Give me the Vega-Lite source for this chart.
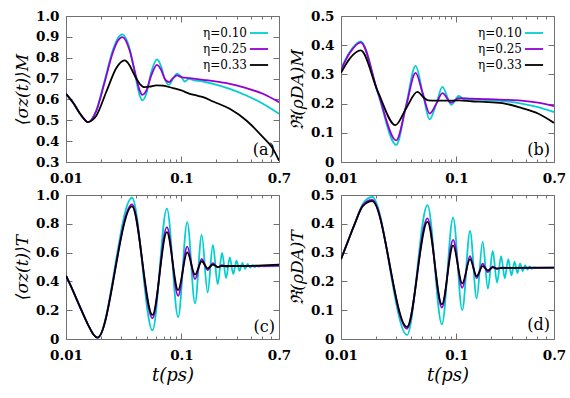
{
  "$schema": "https://vega.github.io/schema/vega-lite/v6.json",
  "padding": {"left": 13, "top": 8, "right": 5, "bottom": 5},
  "config": {
    "view": {"stroke": "#707070", "strokeWidth": 1},
    "axis": {"domain": false, "grid": false, "labelFont": "DejaVu Serif", "labelFontSize": 13.5, "labelFontWeight": "bold", "labelColor": "#000", "tickColor": "#707070", "tickWidth": 1, "titleFont": "DejaVu Serif", "titleFontStyle": "italic", "titleFontWeight": "normal", "titleFontSize": 17, "titleColor": "#000", "labelFlush": false, "labelOverlap": false},
    "line": {"strokeWidth": 1.8, "interpolate": "monotone"},
    "legend": {"labelFont": "DejaVu Serif", "labelFontSize": 12, "labelFontWeight": "normal", "labelColor": "#000", "rowPadding": 0},
    "text": {"font": "DejaVu Serif"}
  },
  "datasets": {
    "a": [
      {"e":"η=0.10","t":0.01,"v":0.627},{"e":"η=0.10","t":0.0115,"v":0.585},{"e":"η=0.10","t":0.0131,"v":0.535},{"e":"η=0.10","t":0.0145,"v":0.503},{"e":"η=0.10","t":0.0155,"v":0.491},{"e":"η=0.10","t":0.0183,"v":0.548},{"e":"η=0.10","t":0.0216,"v":0.69},{"e":"η=0.10","t":0.0255,"v":0.838},{"e":"η=0.10","t":0.0282,"v":0.895},{"e":"η=0.10","t":0.0308,"v":0.912},{"e":"η=0.10","t":0.0356,"v":0.843},{"e":"η=0.10","t":0.0393,"v":0.731},{"e":"η=0.10","t":0.0435,"v":0.619},{"e":"η=0.10","t":0.0458,"v":0.595},{"e":"η=0.10","t":0.0497,"v":0.627},{"e":"η=0.10","t":0.0548,"v":0.731},{"e":"η=0.10","t":0.0614,"v":0.792},{"e":"η=0.10","t":0.067,"v":0.755},{"e":"η=0.10","t":0.0716,"v":0.699},{"e":"η=0.10","t":0.078,"v":0.67},{"e":"η=0.10","t":0.0845,"v":0.699},{"e":"η=0.10","t":0.0915,"v":0.723},{"e":"η=0.10","t":0.1,"v":0.707},{"e":"η=0.10","t":0.1066,"v":0.686},{"e":"η=0.10","t":0.1162,"v":0.699},{"e":"η=0.10","t":0.126,"v":0.693},{"e":"η=0.10","t":0.154,"v":0.686},{"e":"η=0.10","t":0.188,"v":0.675},{"e":"η=0.10","t":0.262,"v":0.651},{"e":"η=0.10","t":0.365,"v":0.619},{"e":"η=0.10","t":0.508,"v":0.579},{"e":"η=0.10","t":0.7,"v":0.531},
      {"e":"η=0.25","t":0.01,"v":0.627},{"e":"η=0.25","t":0.0115,"v":0.585},{"e":"η=0.25","t":0.0131,"v":0.535},{"e":"η=0.25","t":0.0145,"v":0.503},{"e":"η=0.25","t":0.0155,"v":0.491},{"e":"η=0.25","t":0.0183,"v":0.545},{"e":"η=0.25","t":0.0216,"v":0.682},{"e":"η=0.25","t":0.0255,"v":0.826},{"e":"η=0.25","t":0.0282,"v":0.882},{"e":"η=0.25","t":0.0308,"v":0.899},{"e":"η=0.25","t":0.0356,"v":0.835},{"e":"η=0.25","t":0.0393,"v":0.739},{"e":"η=0.25","t":0.0435,"v":0.643},{"e":"η=0.25","t":0.0458,"v":0.622},{"e":"η=0.25","t":0.0497,"v":0.643},{"e":"η=0.25","t":0.0548,"v":0.715},{"e":"η=0.25","t":0.0614,"v":0.766},{"e":"η=0.25","t":0.067,"v":0.739},{"e":"η=0.25","t":0.0716,"v":0.699},{"e":"η=0.25","t":0.078,"v":0.683},{"e":"η=0.25","t":0.0845,"v":0.702},{"e":"η=0.25","t":0.0915,"v":0.715},{"e":"η=0.25","t":0.1,"v":0.707},{"e":"η=0.25","t":0.118,"v":0.702},{"e":"η=0.25","t":0.154,"v":0.694},{"e":"η=0.25","t":0.188,"v":0.688},{"e":"η=0.25","t":0.262,"v":0.675},{"e":"η=0.25","t":0.365,"v":0.654},{"e":"η=0.25","t":0.508,"v":0.627},{"e":"η=0.25","t":0.7,"v":0.587},
      {"e":"η=0.33","t":0.01,"v":0.627},{"e":"η=0.33","t":0.0115,"v":0.585},{"e":"η=0.33","t":0.0131,"v":0.535},{"e":"η=0.33","t":0.0145,"v":0.503},{"e":"η=0.33","t":0.0155,"v":0.491},{"e":"η=0.33","t":0.0171,"v":0.503},{"e":"η=0.33","t":0.0183,"v":0.522},{"e":"η=0.33","t":0.0224,"v":0.638},{"e":"η=0.33","t":0.0273,"v":0.751},{"e":"η=0.33","t":0.0322,"v":0.787},{"e":"η=0.33","t":0.0356,"v":0.763},{"e":"η=0.33","t":0.0393,"v":0.715},{"e":"η=0.33","t":0.0435,"v":0.675},{"e":"η=0.33","t":0.048,"v":0.659},{"e":"η=0.33","t":0.053,"v":0.661},{"e":"η=0.33","t":0.0606,"v":0.667},{"e":"η=0.33","t":0.0692,"v":0.666},{"e":"η=0.33","t":0.0845,"v":0.654},{"e":"η=0.33","t":0.1,"v":0.643},{"e":"η=0.33","t":0.118,"v":0.627},{"e":"η=0.33","t":0.1345,"v":0.619},{"e":"η=0.33","t":0.154,"v":0.611},{"e":"η=0.33","t":0.188,"v":0.59},{"e":"η=0.33","t":0.262,"v":0.555},{"e":"η=0.33","t":0.365,"v":0.499},{"e":"η=0.33","t":0.508,"v":0.419},{"e":"η=0.33","t":0.621,"v":0.363},{"e":"η=0.33","t":0.7,"v":0.307}
    ],
    "b": [
      {"e":"η=0.10","t":0.01,"v":0.32},{"e":"η=0.10","t":0.0119,"v":0.377},{"e":"η=0.10","t":0.0148,"v":0.413},{"e":"η=0.10","t":0.0209,"v":0.235},{"e":"η=0.10","t":0.0301,"v":0.059},{"e":"η=0.10","t":0.0366,"v":0.194},{"e":"η=0.10","t":0.0443,"v":0.329},{"e":"η=0.10","t":0.051,"v":0.237},{"e":"η=0.10","t":0.0586,"v":0.146},{"e":"η=0.10","t":0.067,"v":0.2},{"e":"η=0.10","t":0.0755,"v":0.257},{"e":"η=0.10","t":0.0903,"v":0.196},{"e":"η=0.10","t":0.1045,"v":0.226},{"e":"η=0.10","t":0.118,"v":0.214},{"e":"η=0.10","t":0.1345,"v":0.215},{"e":"η=0.10","t":0.188,"v":0.211},{"e":"η=0.10","t":0.262,"v":0.208},{"e":"η=0.10","t":0.365,"v":0.2},{"e":"η=0.10","t":0.508,"v":0.188},{"e":"η=0.10","t":0.7,"v":0.171},
      {"e":"η=0.25","t":0.01,"v":0.315},{"e":"η=0.25","t":0.0119,"v":0.373},{"e":"η=0.25","t":0.0148,"v":0.41},{"e":"η=0.25","t":0.0209,"v":0.238},{"e":"η=0.25","t":0.0301,"v":0.074},{"e":"η=0.25","t":0.0366,"v":0.19},{"e":"η=0.25","t":0.0443,"v":0.305},{"e":"η=0.25","t":0.051,"v":0.235},{"e":"η=0.25","t":0.0586,"v":0.166},{"e":"η=0.25","t":0.067,"v":0.2},{"e":"η=0.25","t":0.0755,"v":0.236},{"e":"η=0.25","t":0.0903,"v":0.203},{"e":"η=0.25","t":0.1045,"v":0.219},{"e":"η=0.25","t":0.1345,"v":0.217},{"e":"η=0.25","t":0.188,"v":0.215},{"e":"η=0.25","t":0.262,"v":0.213},{"e":"η=0.25","t":0.365,"v":0.21},{"e":"η=0.25","t":0.508,"v":0.203},{"e":"η=0.25","t":0.7,"v":0.191},
      {"e":"η=0.33","t":0.01,"v":0.305},{"e":"η=0.33","t":0.0119,"v":0.354},{"e":"η=0.33","t":0.0148,"v":0.382},{"e":"η=0.33","t":0.0209,"v":0.24},{"e":"η=0.33","t":0.0296,"v":0.126},{"e":"η=0.33","t":0.0366,"v":0.183},{"e":"η=0.33","t":0.0458,"v":0.24},{"e":"η=0.33","t":0.053,"v":0.218},{"e":"η=0.33","t":0.0567,"v":0.211},{"e":"η=0.33","t":0.067,"v":0.21},{"e":"η=0.33","t":0.0845,"v":0.21},{"e":"η=0.33","t":0.1045,"v":0.211},{"e":"η=0.33","t":0.1345,"v":0.208},{"e":"η=0.33","t":0.188,"v":0.205},{"e":"η=0.33","t":0.262,"v":0.2},{"e":"η=0.33","t":0.365,"v":0.185},{"e":"η=0.33","t":0.508,"v":0.166},{"e":"η=0.33","t":0.7,"v":0.134}
    ],
    "c": [
      {"e":"η=0.10","t":0.01,"v":0.44},{"e":"η=0.10","t":0.0115,"v":0.335},{"e":"η=0.10","t":0.0131,"v":0.23},{"e":"η=0.10","t":0.0155,"v":0.1},{"e":"η=0.10","t":0.0171,"v":0.037},{"e":"η=0.10","t":0.0188,"v":0.01},{"e":"η=0.10","t":0.0373,"v":0.981},{"e":"η=0.10","t":0.0561,"v":0.06},{"e":"η=0.10","t":0.0748,"v":0.905},{"e":"η=0.10","t":0.0936,"v":0.153},{"e":"η=0.10","t":0.1123,"v":0.812},{"e":"η=0.10","t":0.1311,"v":0.247},{"e":"η=0.10","t":0.1498,"v":0.723},{"e":"η=0.10","t":0.1686,"v":0.323},{"e":"η=0.10","t":0.1873,"v":0.653},{"e":"η=0.10","t":0.2061,"v":0.381},{"e":"η=0.10","t":0.2248,"v":0.598},{"e":"η=0.10","t":0.2436,"v":0.423},{"e":"η=0.10","t":0.2623,"v":0.567},{"e":"η=0.10","t":0.2811,"v":0.451},{"e":"η=0.10","t":0.2998,"v":0.544},{"e":"η=0.10","t":0.3186,"v":0.474},{"e":"η=0.10","t":0.3373,"v":0.528},{"e":"η=0.10","t":0.3561,"v":0.488},{"e":"η=0.10","t":0.3748,"v":0.521},{"e":"η=0.10","t":0.3936,"v":0.495},{"e":"η=0.10","t":0.4123,"v":0.513},{"e":"η=0.10","t":0.4311,"v":0.499},{"e":"η=0.10","t":0.4498,"v":0.509},{"e":"η=0.10","t":0.4686,"v":0.502},{"e":"η=0.10","t":0.4873,"v":0.507},{"e":"η=0.10","t":0.51,"v":0.505},{"e":"η=0.10","t":0.7,"v":0.506},
      {"e":"η=0.25","t":0.01,"v":0.44},{"e":"η=0.25","t":0.0115,"v":0.335},{"e":"η=0.25","t":0.0131,"v":0.23},{"e":"η=0.25","t":0.0155,"v":0.1},{"e":"η=0.25","t":0.0171,"v":0.037},{"e":"η=0.25","t":0.0188,"v":0.01},{"e":"η=0.25","t":0.0373,"v":0.935},{"e":"η=0.25","t":0.0561,"v":0.144},{"e":"η=0.25","t":0.0748,"v":0.777},{"e":"η=0.25","t":0.0936,"v":0.3},{"e":"η=0.25","t":0.1123,"v":0.642},{"e":"η=0.25","t":0.1311,"v":0.416},{"e":"η=0.25","t":0.1498,"v":0.556},{"e":"η=0.25","t":0.1686,"v":0.479},{"e":"η=0.25","t":0.1873,"v":0.526},{"e":"η=0.25","t":0.2061,"v":0.498},{"e":"η=0.25","t":0.2248,"v":0.512},{"e":"η=0.25","t":0.2436,"v":0.503},{"e":"η=0.25","t":0.27,"v":0.507},{"e":"η=0.25","t":0.4,"v":0.506},{"e":"η=0.25","t":0.7,"v":0.51},
      {"e":"η=0.33","t":0.01,"v":0.44},{"e":"η=0.33","t":0.0115,"v":0.335},{"e":"η=0.33","t":0.0131,"v":0.23},{"e":"η=0.33","t":0.0155,"v":0.1},{"e":"η=0.33","t":0.0171,"v":0.037},{"e":"η=0.33","t":0.0188,"v":0.01},{"e":"η=0.33","t":0.0373,"v":0.921},{"e":"η=0.33","t":0.0561,"v":0.167},{"e":"η=0.33","t":0.0748,"v":0.742},{"e":"η=0.33","t":0.0936,"v":0.34},{"e":"η=0.33","t":0.1123,"v":0.602},{"e":"η=0.33","t":0.1311,"v":0.447},{"e":"η=0.33","t":0.1498,"v":0.54},{"e":"η=0.33","t":0.1686,"v":0.491},{"e":"η=0.33","t":0.1873,"v":0.516},{"e":"η=0.33","t":0.2061,"v":0.5},{"e":"η=0.33","t":0.2248,"v":0.507},{"e":"η=0.33","t":0.3,"v":0.507},{"e":"η=0.33","t":0.5,"v":0.511},{"e":"η=0.33","t":0.7,"v":0.516}
    ],
    "d": [
      {"e":"η=0.10","t":0.01,"v":0.277},{"e":"η=0.10","t":0.0115,"v":0.34},{"e":"η=0.10","t":0.0131,"v":0.398},{"e":"η=0.10","t":0.0155,"v":0.47},{"e":"η=0.10","t":0.0186,"v":0.493},{"e":"η=0.10","t":0.0373,"v":0.014},{"e":"η=0.10","t":0.0561,"v":0.465},{"e":"η=0.10","t":0.0748,"v":0.051},{"e":"η=0.10","t":0.0936,"v":0.421},{"e":"η=0.10","t":0.1123,"v":0.1},{"e":"η=0.10","t":0.1311,"v":0.375},{"e":"η=0.10","t":0.1498,"v":0.141},{"e":"η=0.10","t":0.1686,"v":0.338},{"e":"η=0.10","t":0.1873,"v":0.175},{"e":"η=0.10","t":0.2061,"v":0.306},{"e":"η=0.10","t":0.2248,"v":0.196},{"e":"η=0.10","t":0.2436,"v":0.288},{"e":"η=0.10","t":0.2623,"v":0.211},{"e":"η=0.10","t":0.2811,"v":0.277},{"e":"η=0.10","t":0.2998,"v":0.221},{"e":"η=0.10","t":0.3186,"v":0.269},{"e":"η=0.10","t":0.3373,"v":0.229},{"e":"η=0.10","t":0.3561,"v":0.262},{"e":"η=0.10","t":0.3748,"v":0.236},{"e":"η=0.10","t":0.3936,"v":0.256},{"e":"η=0.10","t":0.4123,"v":0.241},{"e":"η=0.10","t":0.4311,"v":0.252},{"e":"η=0.10","t":0.4498,"v":0.244},{"e":"η=0.10","t":0.4686,"v":0.249},{"e":"η=0.10","t":0.49,"v":0.247},{"e":"η=0.10","t":0.7,"v":0.247},
      {"e":"η=0.25","t":0.01,"v":0.277},{"e":"η=0.25","t":0.0115,"v":0.34},{"e":"η=0.25","t":0.0131,"v":0.398},{"e":"η=0.25","t":0.0155,"v":0.465},{"e":"η=0.25","t":0.0186,"v":0.483},{"e":"η=0.25","t":0.0373,"v":0.036},{"e":"η=0.25","t":0.0561,"v":0.419},{"e":"η=0.25","t":0.0748,"v":0.109},{"e":"η=0.25","t":0.0936,"v":0.344},{"e":"η=0.25","t":0.1123,"v":0.178},{"e":"η=0.25","t":0.1311,"v":0.288},{"e":"η=0.25","t":0.1498,"v":0.211},{"e":"η=0.25","t":0.1686,"v":0.262},{"e":"η=0.25","t":0.1873,"v":0.232},{"e":"η=0.25","t":0.2061,"v":0.252},{"e":"η=0.25","t":0.2248,"v":0.243},{"e":"η=0.25","t":0.2436,"v":0.248},{"e":"η=0.25","t":0.27,"v":0.247},{"e":"η=0.25","t":0.7,"v":0.248},
      {"e":"η=0.33","t":0.01,"v":0.277},{"e":"η=0.33","t":0.0115,"v":0.34},{"e":"η=0.33","t":0.0131,"v":0.398},{"e":"η=0.33","t":0.0155,"v":0.462},{"e":"η=0.33","t":0.0186,"v":0.479},{"e":"η=0.33","t":0.0373,"v":0.042},{"e":"η=0.33","t":0.0561,"v":0.407},{"e":"η=0.33","t":0.0748,"v":0.12},{"e":"η=0.33","t":0.0936,"v":0.325},{"e":"η=0.33","t":0.1123,"v":0.193},{"e":"η=0.33","t":0.1311,"v":0.277},{"e":"η=0.33","t":0.1498,"v":0.218},{"e":"η=0.33","t":0.1686,"v":0.253},{"e":"η=0.33","t":0.1873,"v":0.238},{"e":"η=0.33","t":0.2061,"v":0.249},{"e":"η=0.33","t":0.2248,"v":0.245},{"e":"η=0.33","t":0.26,"v":0.247},{"e":"η=0.33","t":0.7,"v":0.248}
    ]
  },
  "columns": 2,
  "spacing": {"row": 33, "column": 62},
  "bounds": "flush",
  "resolve": {"legend": {"color": "independent"}},
  "concat": [
    {
      "width": 213, "height": 146,
      "data": {"name": "a"},
      "layer": [
        {"mark": {"type": "line", "clip": true},
         "encoding": {
           "x": {"field": "t", "type": "quantitative", "scale": {"type": "log", "domain": [0.01, 0.7], "nice": false},
                 "axis": {"values": [0.01,0.02,0.03,0.04,0.05,0.06,0.07,0.08,0.09,0.1,0.2,0.3,0.4,0.5,0.6,0.7], "format": ".2~f", "labelExpr": "(datum.value==0.01||datum.value==0.1||datum.value==0.7)?datum.label:''", "tickSize": {"condition": {"test": "datum.value==0.01||datum.value==0.1||datum.value==0.7", "value": -6}, "value": -3}, "labelPadding": 15, "title": null}},
           "y": {"field": "v", "type": "quantitative", "scale": {"domain": [0.3, 1], "nice": false, "zero": false},
                 "axis": {"values": [0.3,0.4,0.5,0.6,0.7,0.8,0.9,1.0], "labelExpr": "datum.value==0?'0':format(datum.value,'.1f')", "tickSize": -6, "labelPadding": 13, "title": "⟨σz(t)⟩M", "titlePadding": 4}},
           "color": {"field": "e", "type": "nominal", "scale": {"domain": ["η=0.10", "η=0.25", "η=0.33"], "range": ["#00ced1", "#9400d3", "#000000"]},
                     "legend": {"orient": "top-right", "offset": 7, "title": null, "symbolType": "stroke", "symbolSize": 330, "symbolStrokeWidth": 2, "labelAlign": "right", "labelOffset": -22, "rowPadding": 0, "padding": 0}}
         }},
        {"mark": {"type": "line", "opacity": 0},
         "encoding": {
           "x": {"field": "t", "type": "quantitative", "axis": {"orient": "top", "labels": false, "values": [0.01,0.02,0.03,0.04,0.05,0.06,0.07,0.08,0.09,0.1,0.2,0.3,0.4,0.5,0.6,0.7], "tickSize": {"condition": {"test": "datum.value==0.01||datum.value==0.1||datum.value==0.7", "value": -6}, "value": -3}, "title": null}},
           "y": {"field": "v", "type": "quantitative", "axis": {"orient": "right", "labels": false, "values": [0.3,0.4,0.5,0.6,0.7,0.8,0.9,1.0], "tickSize": -6, "title": null}},
           "detail": {"field": "e"}
         }},
        {"data": {"values": [{}]},
         "mark": {"type": "text", "text": "(a)", "align": "right", "baseline": "bottom", "fontSize": 16},
         "encoding": {"x": {"datum": 0.645, "type": "quantitative", "axis": null}, "y": {"datum": 0.317, "type": "quantitative", "axis": null}}}
      ],
      "resolve": {"axis": {"x": "independent", "y": "independent"}}
    },
    {
      "width": 213, "height": 146,
      "data": {"name": "b"},
      "layer": [
        {"mark": {"type": "line", "clip": true},
         "encoding": {
           "x": {"field": "t", "type": "quantitative", "scale": {"type": "log", "domain": [0.01, 0.7], "nice": false},
                 "axis": {"values": [0.01,0.02,0.03,0.04,0.05,0.06,0.07,0.08,0.09,0.1,0.2,0.3,0.4,0.5,0.6,0.7], "format": ".2~f", "labelExpr": "(datum.value==0.01||datum.value==0.1||datum.value==0.7)?datum.label:''", "tickSize": {"condition": {"test": "datum.value==0.01||datum.value==0.1||datum.value==0.7", "value": -6}, "value": -3}, "labelPadding": 15, "title": null}},
           "y": {"field": "v", "type": "quantitative", "scale": {"domain": [0, 0.5], "nice": false, "zero": false},
                 "axis": {"values": [0,0.1,0.2,0.3,0.4,0.5], "labelExpr": "datum.value==0?'0':format(datum.value,'.1f')", "tickSize": -6, "labelPadding": 13, "title": "ℜ(ρDA)M", "titlePadding": 4}},
           "color": {"field": "e", "type": "nominal", "scale": {"domain": ["η=0.10", "η=0.25", "η=0.33"], "range": ["#00ced1", "#9400d3", "#000000"]},
                     "legend": {"orient": "top-right", "offset": 7, "title": null, "symbolType": "stroke", "symbolSize": 330, "symbolStrokeWidth": 2, "labelAlign": "right", "labelOffset": -22, "rowPadding": 0, "padding": 0}}
         }},
        {"mark": {"type": "line", "opacity": 0},
         "encoding": {
           "x": {"field": "t", "type": "quantitative", "axis": {"orient": "top", "labels": false, "values": [0.01,0.02,0.03,0.04,0.05,0.06,0.07,0.08,0.09,0.1,0.2,0.3,0.4,0.5,0.6,0.7], "tickSize": {"condition": {"test": "datum.value==0.01||datum.value==0.1||datum.value==0.7", "value": -6}, "value": -3}, "title": null}},
           "y": {"field": "v", "type": "quantitative", "axis": {"orient": "right", "labels": false, "values": [0,0.1,0.2,0.3,0.4,0.5], "tickSize": -6, "title": null}},
           "detail": {"field": "e"}
         }},
        {"data": {"values": [{}]},
         "mark": {"type": "text", "text": "(b)", "align": "right", "baseline": "bottom", "fontSize": 16},
         "encoding": {"x": {"datum": 0.645, "type": "quantitative", "axis": null}, "y": {"datum": 0.012, "type": "quantitative", "axis": null}}}
      ],
      "resolve": {"axis": {"x": "independent", "y": "independent"}}
    },
    {
      "width": 213, "height": 144,
      "data": {"name": "c"},
      "layer": [
        {"mark": {"type": "line", "clip": true},
         "encoding": {
           "x": {"field": "t", "type": "quantitative", "scale": {"type": "log", "domain": [0.01, 0.7], "nice": false},
                 "axis": {"values": [0.01,0.02,0.03,0.04,0.05,0.06,0.07,0.08,0.09,0.1,0.2,0.3,0.4,0.5,0.6,0.7], "format": ".2~f", "labelExpr": "(datum.value==0.01||datum.value==0.1||datum.value==0.7)?datum.label:''", "tickSize": {"condition": {"test": "datum.value==0.01||datum.value==0.1||datum.value==0.7", "value": -6}, "value": -3}, "labelPadding": 15, "title": "t(ps)", "titleFontSize": 18, "titlePadding": 2}},
           "y": {"field": "v", "type": "quantitative", "scale": {"domain": [0, 1], "nice": false, "zero": false},
                 "axis": {"values": [0,0.2,0.4,0.6,0.8,1.0], "labelExpr": "datum.value==0?'0':format(datum.value,'.1f')", "tickSize": -6, "labelPadding": 13, "title": "⟨σz(t)⟩T", "titlePadding": 4}},
           "color": {"field": "e", "type": "nominal", "scale": {"domain": ["η=0.10", "η=0.25", "η=0.33"], "range": ["#00ced1", "#9400d3", "#000000"]}, "legend": null}
         }},
        {"mark": {"type": "line", "opacity": 0},
         "encoding": {
           "x": {"field": "t", "type": "quantitative", "axis": {"orient": "top", "labels": false, "values": [0.01,0.02,0.03,0.04,0.05,0.06,0.07,0.08,0.09,0.1,0.2,0.3,0.4,0.5,0.6,0.7], "tickSize": {"condition": {"test": "datum.value==0.01||datum.value==0.1||datum.value==0.7", "value": -6}, "value": -3}, "title": null}},
           "y": {"field": "v", "type": "quantitative", "axis": {"orient": "right", "labels": false, "values": [0,0.2,0.4,0.6,0.8,1.0], "tickSize": -6, "title": null}},
           "detail": {"field": "e"}
         }},
        {"data": {"values": [{}]},
         "mark": {"type": "text", "text": "(c)", "align": "right", "baseline": "bottom", "fontSize": 16},
         "encoding": {"x": {"datum": 0.645, "type": "quantitative", "axis": null}, "y": {"datum": 0.03, "type": "quantitative", "axis": null}}}
      ],
      "resolve": {"axis": {"x": "independent", "y": "independent"}}
    },
    {
      "width": 213, "height": 144,
      "data": {"name": "d"},
      "layer": [
        {"mark": {"type": "line", "clip": true},
         "encoding": {
           "x": {"field": "t", "type": "quantitative", "scale": {"type": "log", "domain": [0.01, 0.7], "nice": false},
                 "axis": {"values": [0.01,0.02,0.03,0.04,0.05,0.06,0.07,0.08,0.09,0.1,0.2,0.3,0.4,0.5,0.6,0.7], "format": ".2~f", "labelExpr": "(datum.value==0.01||datum.value==0.1||datum.value==0.7)?datum.label:''", "tickSize": {"condition": {"test": "datum.value==0.01||datum.value==0.1||datum.value==0.7", "value": -6}, "value": -3}, "labelPadding": 15, "title": "t(ps)", "titleFontSize": 18, "titlePadding": 2}},
           "y": {"field": "v", "type": "quantitative", "scale": {"domain": [0, 0.5], "nice": false, "zero": false},
                 "axis": {"values": [0,0.1,0.2,0.3,0.4,0.5], "labelExpr": "datum.value==0?'0':format(datum.value,'.1f')", "tickSize": -6, "labelPadding": 13, "title": "ℜ(ρDA)T", "titlePadding": 4}},
           "color": {"field": "e", "type": "nominal", "scale": {"domain": ["η=0.10", "η=0.25", "η=0.33"], "range": ["#00ced1", "#9400d3", "#000000"]}, "legend": null}
         }},
        {"mark": {"type": "line", "opacity": 0},
         "encoding": {
           "x": {"field": "t", "type": "quantitative", "axis": {"orient": "top", "labels": false, "values": [0.01,0.02,0.03,0.04,0.05,0.06,0.07,0.08,0.09,0.1,0.2,0.3,0.4,0.5,0.6,0.7], "tickSize": {"condition": {"test": "datum.value==0.01||datum.value==0.1||datum.value==0.7", "value": -6}, "value": -3}, "title": null}},
           "y": {"field": "v", "type": "quantitative", "axis": {"orient": "right", "labels": false, "values": [0,0.1,0.2,0.3,0.4,0.5], "tickSize": -6, "title": null}},
           "detail": {"field": "e"}
         }},
        {"data": {"values": [{}]},
         "mark": {"type": "text", "text": "(d)", "align": "right", "baseline": "bottom", "fontSize": 16},
         "encoding": {"x": {"datum": 0.645, "type": "quantitative", "axis": null}, "y": {"datum": 0.02, "type": "quantitative", "axis": null}}}
      ],
      "resolve": {"axis": {"x": "independent", "y": "independent"}}
    }
  ]
}
